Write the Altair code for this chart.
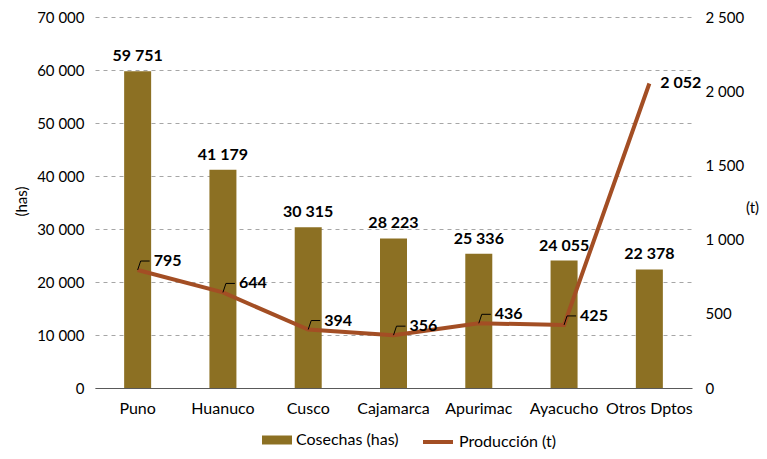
import altair as alt
import pandas as pd

regiones = ["Puno", "Huanuco", "Cusco", "Cajamarca", "Apurimac", "Ayacucho", "Otros Dptos"]
cosechas = [59751, 41179, 30315, 28223, 25336, 24055, 22378]
produccion = [795, 644, 394, 356, 436, 425, 2052]

df = pd.DataFrame({"region": regiones, "cosechas": cosechas, "produccion": produccion})

BAR = "#8C7023"
LINE = "#A34E24"
FONT = "Lato"
FMT = "replace(format(datum.value, ','), /,/g, ' ')"

base = alt.Chart(df).transform_calculate(
    serie_b="'Cosechas (has)'",
    serie_l="'Producción (t)'",
    lab_c="replace(format(datum.cosechas, ','), /,/g, ' ')",
    lab_p="replace(format(datum.produccion, ','), /,/g, ' ')",
)

x = alt.X(
    "region:N", sort=regiones, title=None,
    scale=alt.Scale(paddingInner=0.68, paddingOuter=0.34),
    axis=alt.Axis(labelAngle=0, labelFont=FONT, labelFontSize=16, labelColor="#000000",
                  labelPadding=12, ticks=False, domainColor="#595959", domainWidth=1,
                  grid=False),
)

y_left = alt.Y(
    "cosechas:Q",
    scale=alt.Scale(domain=[0, 70000], nice=False),
    axis=alt.Axis(values=[0, 10000, 20000, 30000, 40000, 50000, 60000, 70000],
                  labelExpr=FMT, labelFont=FONT, labelFontSize=15, labelColor="#000000",
                  labelPadding=11, ticks=False, domain=False,
                  grid=True, gridDash=[4, 4], gridColor="#A6A6A6", gridWidth=1,
                  title="(has)", titleFont=FONT, titleFontSize=15, titleFontWeight="normal",
                  titleColor="#000000", titleAngle=270, titleX=-74, titleY=184,
                  titleAlign="center", titleBaseline="middle"),
)

y_right = alt.Y(
    "produccion:Q",
    scale=alt.Scale(domain=[0, 2500], nice=False),
    axis=alt.Axis(orient="right", values=[0, 500, 1000, 1500, 2000, 2500],
                  labelExpr=FMT, labelFont=FONT, labelFontSize=15, labelColor="#000000",
                  labelPadding=13, ticks=False, domain=False, grid=False,
                  title="(t)", titleFont=FONT, titleFontSize=15, titleFontWeight="normal",
                  titleColor="#000000", titleAngle=0, titleX=60, titleY=190,
                  titleAlign="center", titleBaseline="middle"),
)

bars = base.mark_bar(size=27).encode(
    x=x, y=y_left,
    color=alt.Color("serie_b:N", scale=alt.Scale(domain=["Cosechas (has)"], range=[BAR]),
                    legend=alt.Legend(orient="none", legendX=167, legendY=408, title=None,
                                      symbolType="M-1,-0.3L1,-0.3L1,0.3L-1,0.3Z",
                                      symbolSize=900, symbolStrokeWidth=0,
                                      labelFont=FONT, labelFontSize=16, labelColor="#000000",
                                      labelOffset=4)),
)
bar_text = base.mark_text(dy=-7, baseline="bottom", font=FONT, fontSize=16,
                          fontWeight="bold", color="#000000").encode(
    x=x, y=y_left, text="lab_c:N")

line = base.mark_line(strokeWidth=4).encode(
    x=x, y=y_right,
    color=alt.Color("serie_l:N", scale=alt.Scale(domain=["Producción (t)"], range=[LINE]),
                    legend=alt.Legend(orient="none", legendX=326, legendY=408, title=None,
                                      symbolType="stroke", symbolSize=900,
                                      symbolStrokeWidth=4,
                                      labelFont=FONT, labelFontSize=16, labelColor="#000000",
                                      labelOffset=4)),
)
leaders = base.transform_filter("datum.region != 'Otros Dptos'").mark_point(
    shape="M0,0L0.3,-0.9L1.2,-0.9", size=400, filled=False, stroke="#000000",
    strokeWidth=1, opacity=1).encode(x=x, y=y_right)
line_text = base.transform_filter("datum.region != 'Otros Dptos'").mark_text(
    dx=16, dy=-9, align="left", baseline="middle", font=FONT, fontSize=16,
    fontWeight="bold", color="#000000").encode(x=x, y=y_right, text="lab_p:N")
last_text = base.transform_filter("datum.region == 'Otros Dptos'").mark_text(
    dx=11, dy=0, align="left", baseline="middle", font=FONT, fontSize=16,
    fontWeight="bold", color="#000000").encode(x=x, y=y_right, text="lab_p:N")

left = alt.layer(bars, bar_text)
right = alt.layer(line, leaders, line_text, last_text)

chart = alt.layer(left, right).resolve_scale(y="independent", color="independent").properties(
    width=597, height=371, autosize="none",
    padding={"left": 87, "top": 9, "right": 67, "bottom": 63},
).configure_view(stroke=None)

chart.save("out.html", embed_options={"renderer": "svg", "actions": False})
